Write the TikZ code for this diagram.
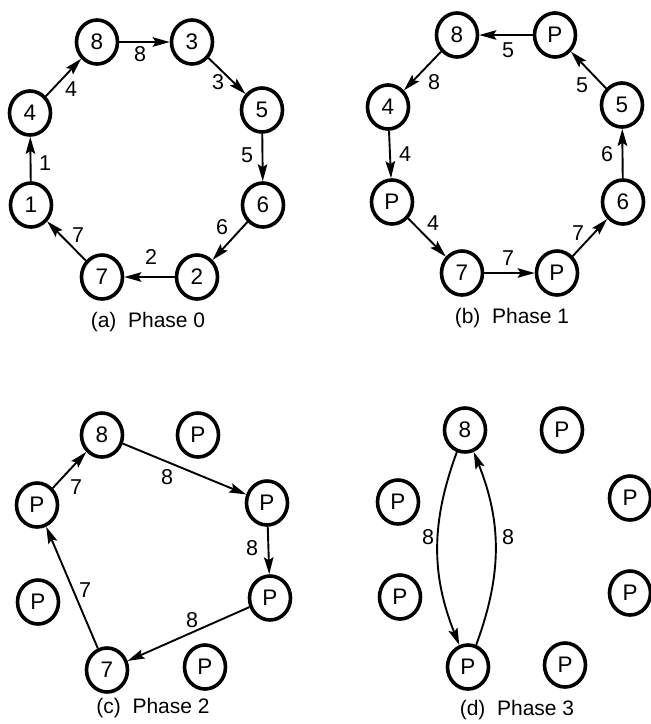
\documentclass[tikz,border=0pt]{standalone}
\usepackage{fontspec}
\setmainfont{Liberation Sans}
\usetikzlibrary{arrows.meta,shapes.geometric}
\begin{document}
\begin{tikzpicture}[x=1pt,y=-1pt,
  nd/.style={ellipse,draw,line width=3.6pt,minimum width=41pt,minimum height=44pt,inner sep=0pt,font=\fontsize{22.5}{22.5}\selectfont},
  arr/.style={line width=1.9pt,-{Stealth[length=17pt,width=9.5pt,inset=3pt]}},
  lbl/.style={inner sep=0pt,font=\fontsize{21.5}{21.5}\selectfont},
  captxt/.style={inner sep=0pt,font=\fontsize{21}{21}\selectfont}]
\useasboundingbox (0,0) rectangle (651,724);
% (a) Phase 0
\node[nd] (a8) at (97,42) {8};
\node[nd] (a3) at (192,42) {3};
\node[nd] (a5) at (262,110) {5};
\node[nd] (a6) at (263,205) {6};
\node[nd] (a2) at (197,277) {2};
\node[nd] (a7) at (102,277) {7};
\node[nd] (a1) at (31,205) {1};
\node[nd] (a4) at (30,113) {4};
\draw[arr] (a8) -- (a3);
\draw[arr] (a3) -- (a5);
\draw[arr] (a5) -- (a6);
\draw[arr] (a6) -- (a2);
\draw[arr] (a2) -- (a7);
\draw[arr] (a7) -- (a1);
\draw[arr] (a1) -- (a4);
\draw[arr] (a4) -- (a8);
\node[lbl] (la8) at (140,54) {8};
\node[lbl] (la3) at (218,82) {3};
\node[lbl] (la5) at (247,155) {5};
\node[lbl] (la6) at (222,227) {6};
\node[lbl] (la2) at (151,257) {2};
\node[lbl] (la7) at (78,235) {7};
\node[lbl] (la1) at (45,163) {1};
\node[lbl] (la4) at (71,89) {4};
\node[captxt] (capa) at (148,322) {(a)\ \ Phase 0};
% (b) Phase 1
\node[nd] (b8) at (457,35) {8};
\node[nd] (bP1) at (555,35) {P};
\node[nd] (b5) at (622,105) {5};
\node[nd] (b6) at (623,202) {6};
\node[nd] (bP2) at (557,273) {P};
\node[nd] (b7) at (462,273) {7};
\node[nd] (bP3) at (392,202) {P};
\node[nd] (b4) at (388,107) {4};
\draw[arr] (bP1) -- (b8);
\draw[arr] (b8) -- (b4);
\draw[arr] (b4) -- (bP3);
\draw[arr] (bP3) -- (b7);
\draw[arr] (b7) -- (bP2);
\draw[arr] (bP2) -- (b6);
\draw[arr] (b6) -- (b5);
\draw[arr] (b5) -- (bP1);
\node[lbl] (lb5a) at (508,50) {5};
\node[lbl] (lb8) at (434,82) {8};
\node[lbl] (lb4a) at (405,154) {4};
\node[lbl] (lb4b) at (433,223) {4};
\node[lbl] (lb7a) at (508,258) {7};
\node[lbl] (lb7b) at (578,233) {7};
\node[lbl] (lb6) at (607,154) {6};
\node[lbl] (lb5b) at (582,85) {5};
\node[captxt] (capb) at (512,318) {(b)\ \ Phase 1};
% (c) Phase 2
\node[nd] (c8) at (102,435) {8};
\node[nd] (cP1) at (198,435) {P};
\node[nd] (cP2) at (267,503) {P};
\node[nd] (cP3) at (270,598) {P};
\node[nd] (cP4) at (205,667) {P};
\node[nd] (c7) at (107,670) {7};
\node[nd] (cP5) at (38,602) {P};
\node[nd] (cP6) at (37,505) {P};
\draw[arr] (cP6) -- (c8);
\draw[arr] (c8) -- (cP2);
\draw[arr] (cP2) -- (cP3);
\draw[arr] (cP3) -- (c7);
\draw[arr] (c7) -- (cP6);
\node[lbl] (lc7a) at (76,487) {7};
\node[lbl] (lc8a) at (167,477) {8};
\node[lbl] (lc8b) at (252,548) {8};
\node[lbl] (lc8c) at (192,620) {8};
\node[lbl] (lc7b) at (85,590) {7};
\node[captxt] (capc) at (153,708) {(c)\ \ Phase 2};
% (d) Phase 3
\node[nd] (d8) at (465,430) {8};
\node[nd] (dP1) at (562,430) {P};
\node[nd] (dP2) at (630,498) {P};
\node[nd] (dP3) at (630,593) {P};
\node[nd] (dP4) at (565,665) {P};
\node[nd] (dP5) at (468,667) {P};
\node[nd] (dP6) at (400,597) {P};
\node[nd] (dP7) at (398,502) {P};
\draw[arr] (d8) to[bend right=21] (dP5);
\draw[arr] (dP5) to[bend right=21] (d8);
\node[lbl] (ld8a) at (428,537) {8};
\node[lbl] (ld8b) at (508,537) {8};
\node[captxt] (capd) at (517,710) {(d)\ \ Phase 3};
\end{tikzpicture}
\end{document}
